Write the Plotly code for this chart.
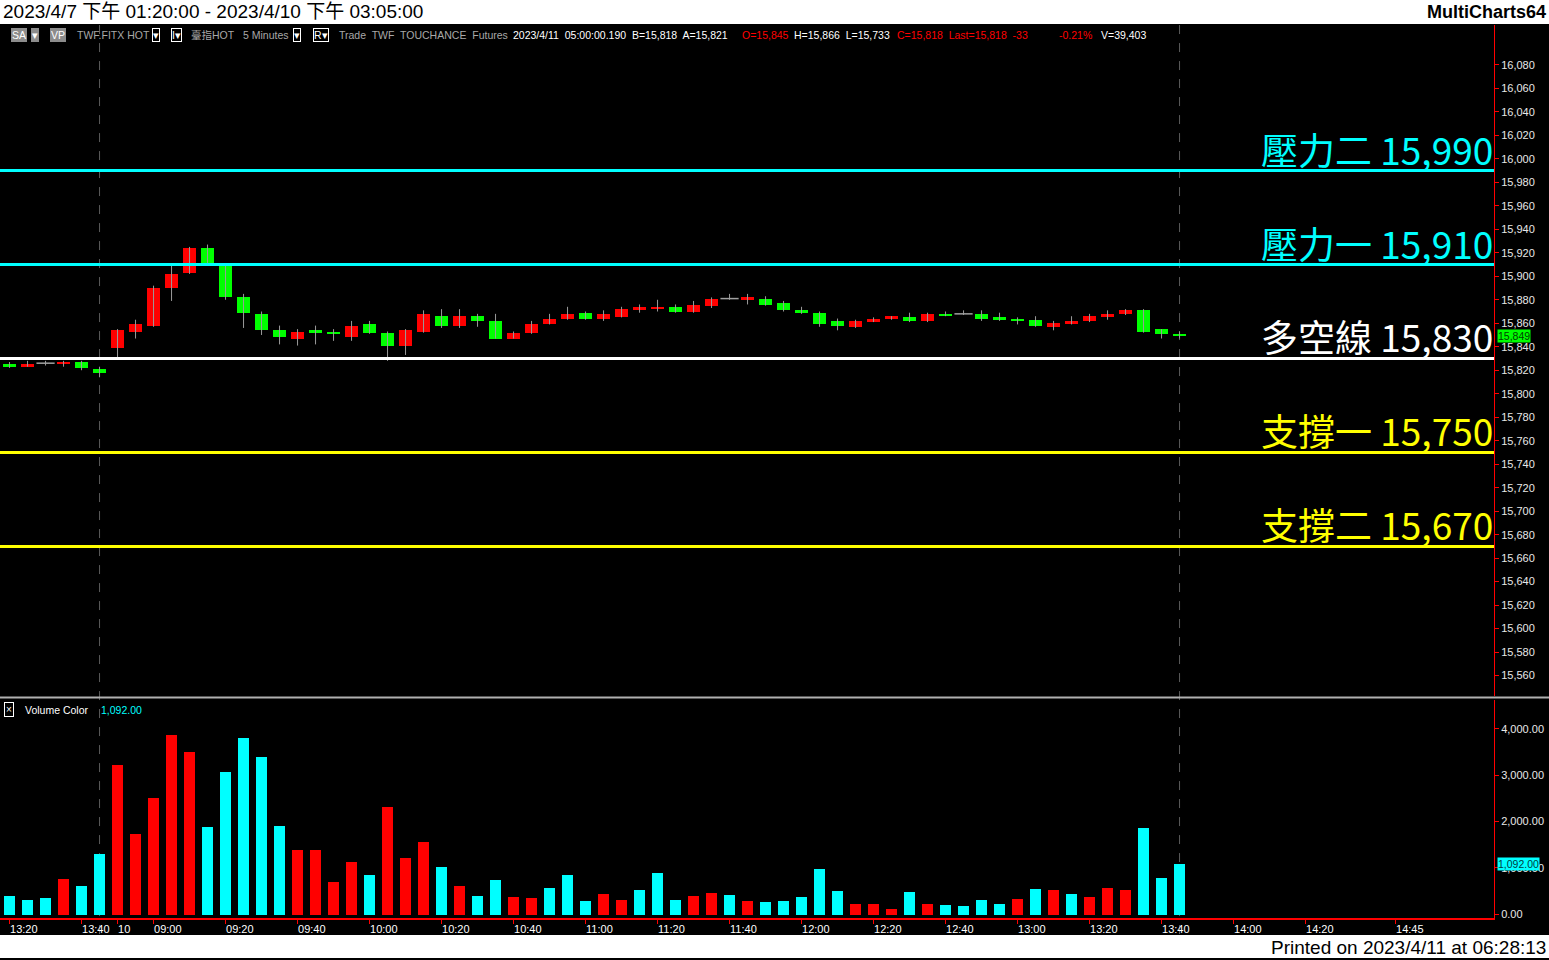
import plotly.graph_objects as go

W, H = 1549, 960

# ---------------- data ----------------
opens = [15825, 15823, 15826, 15825, 15827, 15821, 15839, 15853, 15858, 15890, 15903, 15924,
         15909, 15882, 15868, 15854, 15847, 15854, 15852, 15848, 15859, 15852, 15841, 15853,
         15866, 15858, 15866, 15862, 15847, 15852, 15859, 15864, 15869, 15864, 15865, 15871,
         15873, 15874, 15870, 15875, 15881, 15880, 15881, 15877, 15871, 15869, 15862, 15857,
         15861, 15864, 15865, 15862, 15868, 15868, 15868, 15865, 15864, 15863, 15857, 15859,
         15862, 15865, 15868, 15871, 15855, 15851]
highs = [15827, 15828, 15828, 15828, 15828, 15823, 15855, 15863, 15892, 15909, 15925, 15927,
         15910, 15885, 15870, 15858, 15855, 15858, 15855, 15862, 15862, 15853, 15855, 15871,
         15872, 15872, 15868, 15868, 15853, 15862, 15868, 15874, 15870, 15871, 15874, 15876,
         15880, 15876, 15879, 15882, 15885, 15885, 15883, 15879, 15874, 15870, 15864, 15863,
         15865, 15866, 15869, 15869, 15870, 15871, 15871, 15869, 15865, 15866, 15862, 15866,
         15868, 15871, 15872, 15872, 15855, 15853]
lows = [15822, 15823, 15824, 15823, 15820, 15814, 15831, 15847, 15857, 15879, 15902, 15910,
        15880, 15856, 15850, 15842, 15841, 15842, 15845, 15845, 15851, 15828, 15833, 15852,
        15856, 15856, 15857, 15847, 15847, 15851, 15859, 15863, 15863, 15862, 15865, 15869,
        15870, 15869, 15869, 15873, 15880, 15876, 15875, 15870, 15868, 15857, 15854, 15856,
        15861, 15863, 15861, 15861, 15866, 15867, 15862, 15862, 15859, 15857, 15854, 15859,
        15861, 15863, 15867, 15852, 15847, 15847]
closes = [15823, 15825, 15826, 15827, 15822, 15818, 15854, 15859, 15890, 15902, 15924, 15911,
          15882, 15869, 15854, 15848, 15853, 15852, 15851, 15858, 15852, 15841, 15854, 15868,
          15858, 15866, 15862, 15847, 15852, 15859, 15864, 15868, 15864, 15868, 15872, 15874,
          15874, 15870, 15876, 15881, 15881, 15882, 15876, 15871, 15869, 15859, 15858, 15862,
          15864, 15866, 15862, 15868, 15867, 15868, 15864, 15863, 15862, 15858, 15860, 15862,
          15866, 15868, 15871, 15853, 15851, 15849]
volumes = [408, 323, 366, 774, 624, 1312, 3225, 1742, 2516, 3877, 3505, 1892, 3075, 3805,
           3397, 1913, 1397, 1397, 710, 1140, 860, 2322, 1226, 1570, 1032, 624, 409, 753, 387,
           366, 581, 860, 301, 452, 323, 538, 903, 323, 409, 473, 430, 301, 280, 301, 387, 989,
           516, 237, 237, 129, 495, 237, 215, 194, 323, 237, 344, 559, 538, 452, 387, 581, 538,
           1870, 796, 1092]
vol_up = [0, 0, 0, 1, 0, 0, 1, 1, 1, 1, 1, 0, 0, 0, 0, 0, 1, 1, 1, 1, 0, 1, 1, 1, 0, 1, 0, 0,
          1, 1, 0, 0, 0, 1, 1, 0, 0, 0, 1, 1, 0, 1, 0, 0, 0, 0, 0, 1, 1, 1, 0, 1, 0, 0, 0, 0,
          1, 0, 1, 0, 1, 1, 1, 0, 0, 0]

tick_idx = [0, 4, 6, 8, 12, 16, 20, 24, 28, 32, 36, 40, 44, 48, 52, 56, 60, 64, 68, 72, 77]
tick_text = ["13:20", "13:40", "10", "09:00", "09:20", "09:40", "10:00", "10:20", "10:40",
             "11:00", "11:20", "11:40", "12:00", "12:20", "12:40", "13:00", "13:20", "13:40",
             "14:00", "14:20", "14:45"]
session_end_idx = [5, 65]

level_names = ["壓力二", "壓力一", "多空線", "支撐一", "支撐二"]
level_values = [15990, 15910, 15830, 15750, 15670]
level_colors = ["#00ffff", "#00ffff", "#ffffff", "#ffff00", "#ffff00"]

price_ticks = list(range(15560, 16081, 20))
vol_ticks = [0, 1000, 2000, 3000, 4000]

# ---------------- geometry helpers ----------------
def px(x):
    return x / W


def py(y):
    return 1 - y / H


n = len(opens)
xs = list(range(n))
X_RANGE = [-0.53, 82.47]
AX_X = 1494
RED = "#ff0000"
GREEN = "#00ff00"
CYAN = "#00ffff"
FONT = "Liberation Sans, Arial, Noto Sans CJK TC, sans-serif"
CJK = "Noto Sans CJK TC, sans-serif"

fig = go.Figure()

# wicks
wx, wy = [], []
for i in xs:
    wx += [i, i, None]
    wy += [lows[i], highs[i], None]
fig.add_trace(go.Scatter(x=wx, y=wy, mode="lines", line=dict(color="#9a9a9a", width=1),
                         hoverinfo="skip", showlegend=False, xaxis="x", yaxis="y"))

# bodies
body_x, body_base, body_h, body_c = [], [], [], []
doji_x, doji_y = [], []
for i in xs:
    o, c = opens[i], closes[i]
    if o == c:
        doji_x.append(i)
        doji_y.append(c)
    else:
        body_x.append(i)
        body_base.append(min(o, c))
        body_h.append(abs(c - o))
        body_c.append(RED if c > o else GREEN)
fig.add_trace(go.Bar(x=body_x, y=body_h, base=body_base, width=0.72,
                     marker=dict(color=body_c, line=dict(width=0)),
                     showlegend=False, xaxis="x", yaxis="y"))
fig.add_trace(go.Scatter(x=doji_x, y=doji_y, mode="markers",
                         marker=dict(symbol="line-ew", size=13,
                                     line=dict(color="#a0a0a0", width=1.5)),
                         showlegend=False, xaxis="x", yaxis="y"))

# volume
fig.add_trace(go.Bar(x=xs, y=volumes, width=0.62,
                     marker=dict(color=[RED if u else CYAN for u in vol_up], line=dict(width=0)),
                     showlegend=False, xaxis="x2", yaxis="y2"))

dom_x = [0, AX_X / W]
price_dom = [py(697), py(25)]
vol_dom = [py(920), py(701)]

axis_common = dict(showgrid=False, zeroline=False)
fig.update_layout(
    width=W, height=H,
    margin=dict(l=0, r=0, t=0, b=0),
    paper_bgcolor="#000000", plot_bgcolor="#000000",
    showlegend=False, bargap=0,
    xaxis=dict(domain=dom_x, range=X_RANGE, anchor="y", showticklabels=False,
               showline=False, ticks="", **axis_common),
    yaxis=dict(domain=price_dom, range=[15543, 16114], anchor="x", side="right",
               tickvals=price_ticks, tickformat=",", ticks="outside", ticklen=4,
               tickcolor=RED, showline=True, linecolor=RED, linewidth=1,
               tickfont=dict(family=FONT, size=11, color="#e8e8e8"), **axis_common),
    xaxis2=dict(domain=dom_x, range=X_RANGE, anchor="y2", tickvals=tick_idx,
                ticktext=tick_text, ticks="outside", ticklen=4, tickcolor=RED,
                showline=True, linecolor=RED, linewidth=2,
                ticklabelposition="outside right", ticklabelshift=-1,
                tickfont=dict(family=FONT, size=11, color="#ffffff"), **axis_common),
    yaxis2=dict(domain=vol_dom, range=[-80, 4630], anchor="x2", side="right",
                tickvals=vol_ticks, tickformat=",.2f", ticks="outside", ticklen=4,
                tickcolor=RED, showline=True, linecolor=RED, linewidth=1,
                tickfont=dict(family=FONT, size=11, color="#e8e8e8"), **axis_common),
)

shapes = []
# header / footer white bands
shapes.append(dict(type="rect", xref="paper", yref="paper", x0=0, x1=1, y0=py(24), y1=1,
                   fillcolor="#ffffff", line=dict(width=0), layer="above"))
shapes.append(dict(type="rect", xref="paper", yref="paper", x0=0, x1=1, y0=0, y1=py(937),
                   fillcolor="#ffffff", line=dict(width=0), layer="above"))
# pane separator
shapes.append(dict(type="line", xref="paper", yref="paper", x0=0, x1=1, y0=py(699), y1=py(699),
                   line=dict(color="#b0b0b0", width=2), layer="above"))
# session dashed lines
for idx in session_end_idx:
    shapes.append(dict(type="line", xref="x", yref="paper", x0=idx, x1=idx, y0=py(936), y1=py(25),
                       line=dict(color="#5a5a5a", width=1, dash="dash"), layer="below"))
# levels
for v, c in zip(level_values, level_colors):
    shapes.append(dict(type="line", xref="paper", yref="y", x0=0, x1=AX_X / W, y0=v, y1=v,
                       line=dict(color=c, width=3), layer="above"))
fig.update_layout(shapes=shapes)

ann = []
for name, v, c in zip(level_names, level_values, level_colors):
    ann.append(dict(xref="paper", yref="y", x=(AX_X + 1) / W, y=v, xanchor="right",
                    yanchor="bottom", yshift=-7, showarrow=False,
                    text=f"{name}\u00a0{v:,}", font=dict(family=CJK, size=37, color=c)))

# title bar
ann.append(dict(xref="paper", yref="paper", x=px(1), y=py(12), xanchor="left", yanchor="middle",
                showarrow=False, text="2023/4/7 下午 01:20:00 - 2023/4/10 下午 03:05:00",
                font=dict(family=FONT, size=19, color="#000000")))
ann.append(dict(xref="paper", yref="paper", x=px(1548), y=py(12), xanchor="right", yanchor="middle",
                showarrow=False, text="<b>MultiCharts64</b>",
                font=dict(family=FONT, size=18, color="#000000")))
ann.append(dict(xref="paper", yref="paper", x=px(1548), y=py(949), xanchor="right", yanchor="middle",
                showarrow=False, text="Printed on 2023/4/11 at 06:28:13",
                font=dict(family=FONT, size=19, color="#000000")))

# info line
info = [
    (11, "SA", "#ffffff", "#8c8c8c", "#8c8c8c"),
    (31, "▾", "#ffffff", "#8c8c8c", "#8c8c8c"),
    (50, "VP", "#ffffff", "#8c8c8c", "#8c8c8c"),
    (75, "TWF.FITX HOT", "#a8a8a8", None, None),
    (152, "▾", "#ffffff", "#000000", "#ffffff"),
    (171, "I▾", "#ffffff", "#000000", "#ffffff"),
    (189, "臺指HOT", "#a8a8a8", None, None),
    (241, "5 Minutes", "#a8a8a8", None, None),
    (293, "▾", "#ffffff", "#000000", "#ffffff"),
    (313, "R▾", "#ffffff", "#000000", "#ffffff"),
    (337, "Trade  TWF  TOUCHANCE  Futures", "#a8a8a8", None, None),
    (511, "2023/4/11  05:00:00.190  B=15,818  A=15,821", "#ffffff", None, None),
    (740, "O=15,845", RED, None, None),
    (792, "H=15,866  L=15,733", "#ffffff", None, None),
    (895, "C=15,818  Last=15,818  -33", RED, None, None),
    (1057, "-0.21%", RED, None, None),
    (1099, "V=39,403", "#ffffff", None, None),
]
for x0, t, col, bg, bd in info:
    d = dict(xref="paper", yref="paper", x=px(x0), y=py(35), xanchor="left", yanchor="middle",
             showarrow=False, text=t.replace("  ", "\u00a0 "),
             font=dict(family=FONT, size=10.5, color=col))
    if bg:
        d.update(bgcolor=bg, bordercolor=bd, borderwidth=1, borderpad=0)
    ann.append(d)

# volume legend
ann.append(dict(xref="paper", yref="paper", x=px(4), y=py(711), xanchor="left", yanchor="middle",
                showarrow=False, text="×", bordercolor="#ffffff", borderwidth=1, borderpad=1,
                font=dict(family=FONT, size=10, color="#ffffff")))
ann.append(dict(xref="paper", yref="paper", x=px(23), y=py(711), xanchor="left", yanchor="middle",
                showarrow=False, text="Volume Color", font=dict(family=FONT, size=10.5, color="#ffffff")))
ann.append(dict(xref="paper", yref="paper", x=px(99), y=py(711), xanchor="left", yanchor="middle",
                showarrow=False, text=f"{volumes[-1]:,.2f}", font=dict(family=FONT, size=10.5, color=CYAN)))

# last value flags
ann.append(dict(xref="paper", yref="y", x=px(1497), y=closes[-1], xanchor="left", yanchor="middle",
                showarrow=False, text=f"{closes[-1]:,}", bgcolor=GREEN, borderpad=0,
                font=dict(family=FONT, size=10.5, color="#004000")))
ann.append(dict(xref="paper", yref="y2", x=px(1497), y=volumes[-1], xanchor="left", yanchor="middle",
                showarrow=False, text=f"{volumes[-1]:,.2f}", bgcolor=CYAN, borderpad=0,
                font=dict(family=FONT, size=10.5, color="#004040")))

fig.update_layout(annotations=ann)
fig.write_html("out.html", config={"displayModeBar": False},
               post_script="document.body.style.margin='0px';document.body.style.overflow='hidden';")
